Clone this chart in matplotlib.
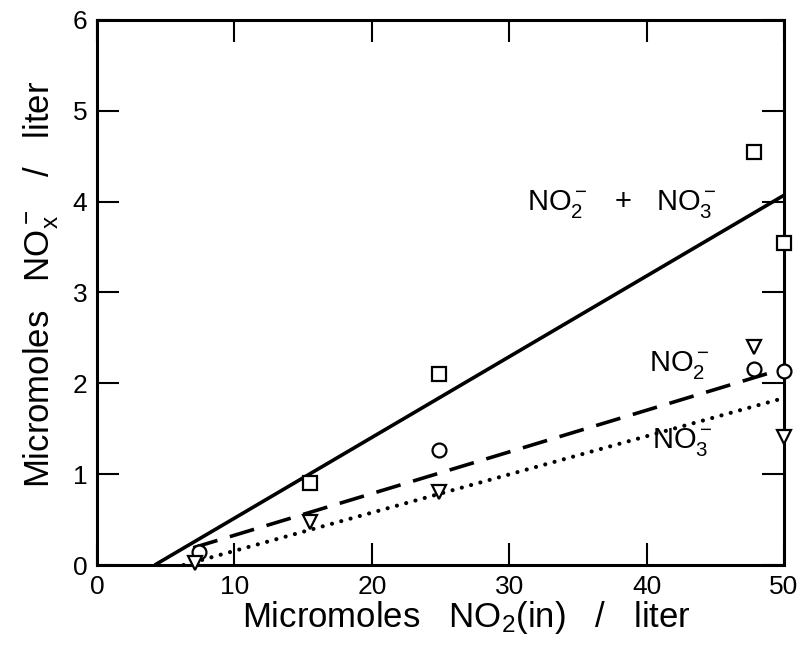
import matplotlib
matplotlib.use('Agg')
import matplotlib.pyplot as plt
import numpy as np

plt.rcParams['font.family'] = ['Liberation Sans', 'DejaVu Sans']
plt.rcParams['mathtext.fontset'] = 'custom'
plt.rcParams['mathtext.rm'] = 'Liberation Sans'
plt.rcParams['mathtext.it'] = 'Liberation Sans'

# data
x_sum = [15.5, 24.9, 47.8, 50.0]
y_sum = [0.90, 2.10, 4.55, 3.54]
x_no2 = [7.4, 24.9, 47.8, 50.0]
y_no2 = [0.14, 1.27, 2.16, 2.14]
x_no3 = [7.1, 15.5, 24.9, 47.8, 50.0]
y_no3 = [0.02, 0.47, 0.80, 2.40, 1.41]

# fitted lines (start, end)
line_sum_x = [4.2, 50.0]
line_sum_y = [0.0, 4.07]
line_no2_x = [7.0, 49.3]
line_no2_y = [0.19, 2.13]
line_no3_x = [6.3, 49.8]
line_no3_y = [0.0, 1.83]

fig = plt.figure(figsize=(8.02, 6.62), dpi=100)
ax = fig.add_axes([0.121, 0.1465, 0.8566, 0.8235])

ax.plot(line_sum_x, line_sum_y, c='black', lw=2.6, solid_capstyle='butt')
ax.plot(line_no2_x, line_no2_y, c='black', lw=2.6, ls=(0, (7, 3.6)))
ax.plot(line_no3_x, line_no3_y, c='black', lw=3.0, ls=(0, (0.01, 2.3)), dash_capstyle='round')

mk = dict(ls='none', mfc='white', mec='black', mew=1.6, ms=10, clip_on=False, zorder=5)
ax.plot(x_sum, y_sum, marker='s', **mk)
ax.plot(x_no2, y_no2, marker='o', **mk)
ax.plot(x_no3, y_no3, marker='v', **mk)

fs = 21
ax.text(31.3, 3.91, r'NO$_2^-$   +   NO$_3^-$', fontsize=fs, va='baseline')
ax.text(40.2, 2.13, r'NO$_2^-$', fontsize=fs, va='baseline')
ax.text(40.4, 1.29, r'NO$_3^-$', fontsize=fs, va='baseline')

ax.set_xlim(0, 50)
ax.set_ylim(0, 6)
ax.set_xticks([0, 10, 20, 30, 40, 50])
ax.set_yticks([0, 1, 2, 3, 4, 5, 6])
ax.tick_params(direction='in', length=16, width=1.5, top=True, right=True,
               labelsize=19, pad=7)
for s in ax.spines.values():
    s.set_linewidth(2.2)

ax.set_xlabel(r'Micromoles   NO$_2$(in)   /   liter', fontsize=25)
ax.set_ylabel(r'Micromoles   NO$_x^-$   /   liter', fontsize=25)
ax.xaxis.set_label_coords(0.538, -0.062)
ax.yaxis.set_label_coords(-0.053, 0.515)

fig.savefig('out.png', dpi=100)
